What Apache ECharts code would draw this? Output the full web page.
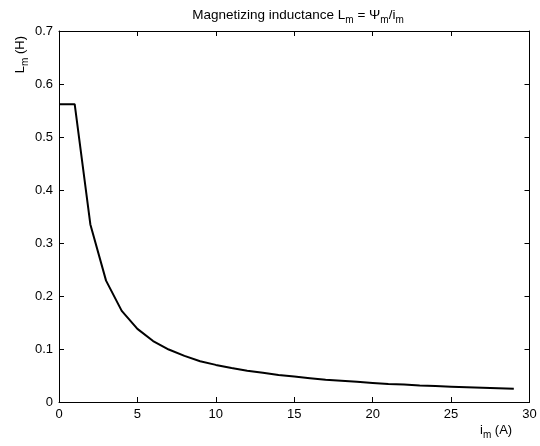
<!DOCTYPE html>
<html>
<head>
<meta charset="utf-8">
<script src="https://cdn.jsdelivr.net/npm/echarts@6/dist/echarts.min.js"></script>
<style>html,body{margin:0;padding:0;background:#fff;}#c{width:540px;height:446px;}</style>
</head>
<body>
<div id="c"></div>
<script>
var current = [0,1,2,3,4,5,6,7,8,9,10,11,12,13,14,15,16,17,18,19,20,21,22,23,24,25,26,27,28,29];
var inductance = [0.562,0.562,0.335,0.229,0.172,0.138,0.115,0.099,0.087,0.077,0.070,0.064,0.059,0.055,0.051,0.048,0.045,0.042,0.040,0.038,0.036,0.034,0.033,0.031,0.030,0.029,0.028,0.027,0.026,0.025];
var xTicks = [0,5,10,15,20,25,30];
var yTicks = [0,0.1,0.2,0.3,0.4,0.5,0.6,0.7];

var FONT = 'Liberation Sans, Arial, sans-serif';
var chart = echarts.init(document.getElementById('c'), null, {renderer:'canvas'});
var pts = current.map(function(x,i){return [x, inductance[i]];});
var axisCommon = {
  axisLine:{show:true,onZero:false,lineStyle:{color:'#000',width:1}},
  axisTick:{show:true,inside:true,length:5,lineStyle:{color:'#000',width:1}},
  splitLine:{show:false}
};
var sub = {fontSize:10, fontWeight:'normal', fontFamily:FONT, color:'#000', padding:[9,0,0,0]};
var main = {fontSize:13, fontWeight:'normal', fontFamily:FONT, color:'#000'};
var tmain = {fontSize:13.5, fontWeight:'normal', fontFamily:FONT, color:'#000'};
chart.setOption({
  animation:false,
  backgroundColor:'#fff',
  title:{
    text:'{a|Magnetizing inductance L}{s|m}{a| = Ψ}{s|m}{a|/i}{s|m}',
    left:293, top:1, textAlign:'center',
    textStyle:{fontWeight:'normal', rich:{a:tmain, s:sub}}
  },
  grid:{left:59, right:10.5, top:31, bottom:44, containLabel:false},
  xAxis:[
    Object.assign({type:'value', min:xTicks[0], max:xTicks[xTicks.length-1], interval:5, position:'bottom',
      axisLabel:{show:true, color:'#000', fontFamily:FONT, fontSize:13, margin:6,
        formatter:function(v){return xTicks.indexOf(v)>=0?String(v):'';}}}, axisCommon),
    Object.assign({type:'value', min:0, max:30, interval:5, position:'top', axisLabel:{show:false}}, axisCommon)
  ],
  yAxis:[
    Object.assign({type:'value', min:yTicks[0], max:yTicks[yTicks.length-1], interval:0.1, position:'left',
      axisLabel:{show:true, color:'#000', fontFamily:FONT, fontSize:13, margin:6,
        formatter:function(v){var r=Math.round(v*10)/10; return r===0?'0':r.toFixed(1);}}}, axisCommon),
    Object.assign({type:'value', min:0, max:0.7, interval:0.1, position:'right', axisLabel:{show:false}}, axisCommon)
  ],
  graphic:[
    {type:'text', left:14, top:36, rotation:Math.PI/2,
      style:{text:'{a|L}{s|m}{a| (H)}', rich:{a:main, s:sub}}},
    {type:'text', left:480, top:424,
      style:{text:'{a|i}{s|m}{a| (A)}', rich:{a:main, s:sub}}}
  ],
  series:[{
    type:'line', data:pts, xAxisIndex:0, yAxisIndex:0,
    showSymbol:false, symbol:'none',
    lineStyle:{color:'#000', width:2}
  }]
});
</script>
</body>
</html>
